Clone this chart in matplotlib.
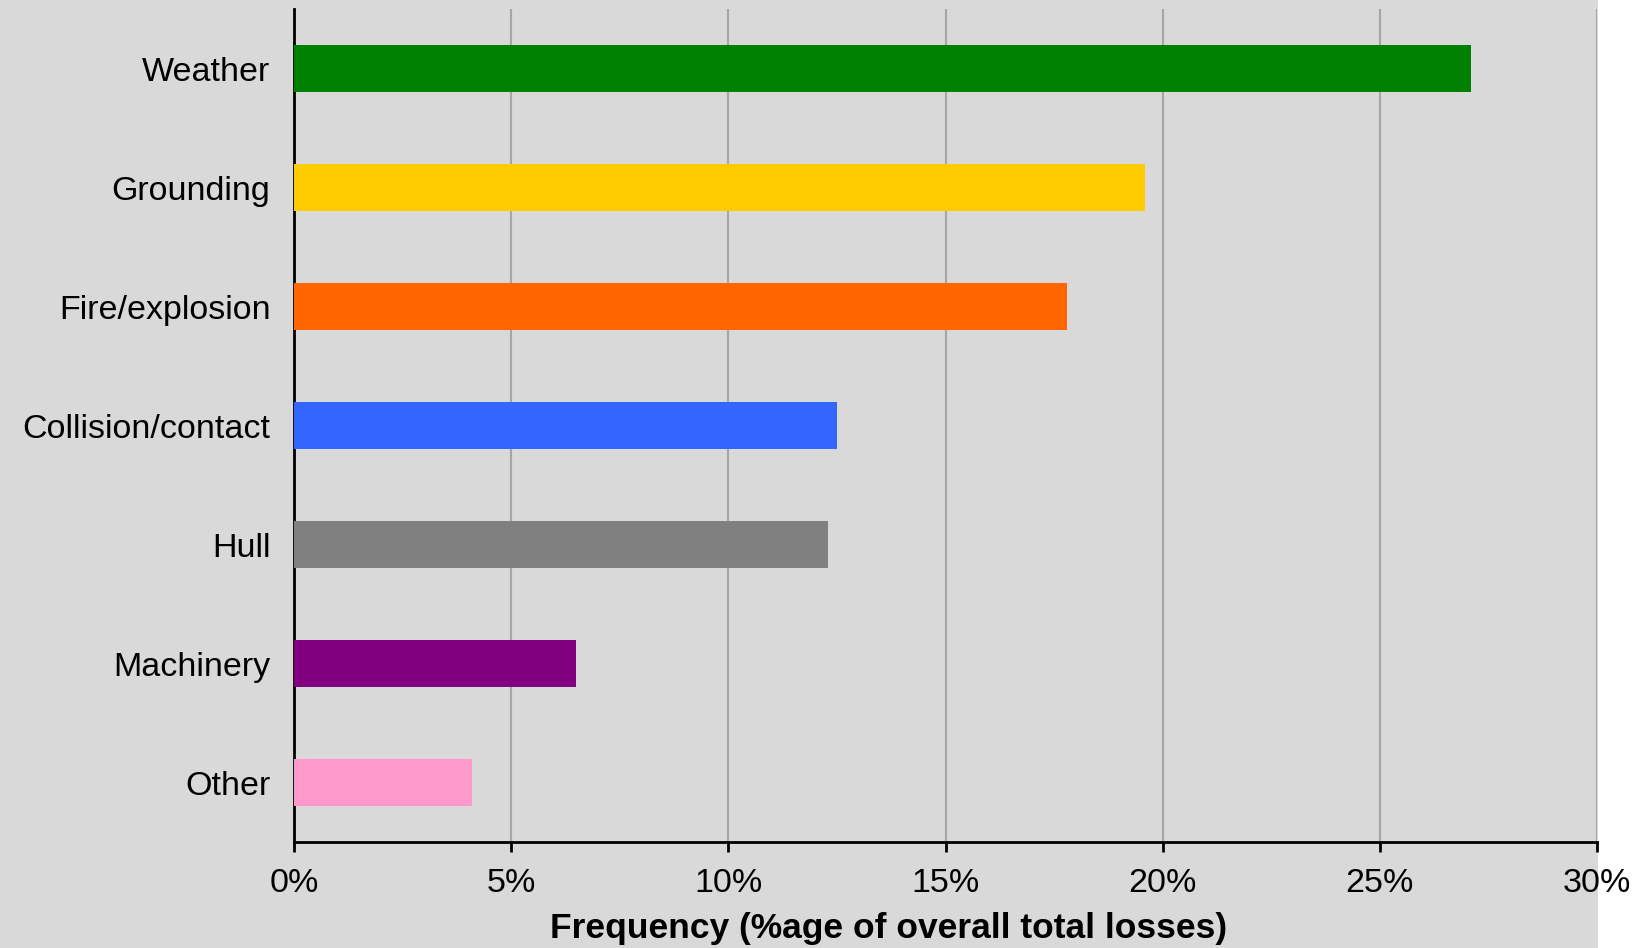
import matplotlib
matplotlib.use("Agg")
import matplotlib.pyplot as plt
from matplotlib.patches import Rectangle
from matplotlib.ticker import FuncFormatter

# Causes of total losses, share of all losses (%)
categories = ["Weather", "Grounding", "Fire/explosion", "Collision/contact",
              "Hull", "Machinery", "Other"]
frequency = [27.1, 19.6, 17.8, 12.5, 12.3, 6.5, 4.1]
bar_colors = ["#008000", "#FFCC00", "#FF6600", "#3366FF",
              "#808080", "#800080", "#FF99CC"]

plt.rcParams["font.family"] = ["Liberation Sans", "DejaVu Sans"]

fig = plt.figure(figsize=(16.45, 9.48), dpi=100)
fig.patch.set_facecolor("white")
# grey chart area, stopping short of the right edge
fig.patches.append(Rectangle((0, 0), 1598 / 1645, 1, transform=fig.transFigure,
                             facecolor="#D9D9D9", edgecolor="none", zorder=-10))

ax = fig.add_axes([294 / 1645, 1 - 842 / 948, (1597 - 294) / 1645, (842 - 9) / 948])
ax.set_facecolor("#D9D9D9")

y = list(range(len(categories)))
ax.barh(y, frequency, height=0.4, color=bar_colors, zorder=3)

ax.set_ylim(len(categories) - 0.5, -0.5)
ax.set_xlim(0, 30)
ax.set_yticks(y)
ax.set_yticklabels(categories, fontsize=24.5)
ax.tick_params(axis="y", length=0, pad=17)

ax.set_xticks(range(0, 31, 5))
ax.xaxis.set_major_formatter(FuncFormatter(lambda v, p: f"{v:.0f}%"))
ax.tick_params(axis="x", labelsize=24.5, length=7, width=2, pad=12, color="black")
ax.set_xlabel("Frequency (%age of overall total losses)", fontsize=25.5,
              fontweight="bold", va="center")
ax.xaxis.set_label_coords(0.456, -0.1044)

ax.grid(axis="x", color="#A6A6A6", linewidth=1.5, zorder=0)
ax.set_axisbelow(True)

for side in ("top", "right"):
    ax.spines[side].set_visible(False)
for side in ("left", "bottom"):
    ax.spines[side].set_color("black")
    ax.spines[side].set_linewidth(2)

fig.savefig("out.png", dpi=100, facecolor=fig.get_facecolor())
